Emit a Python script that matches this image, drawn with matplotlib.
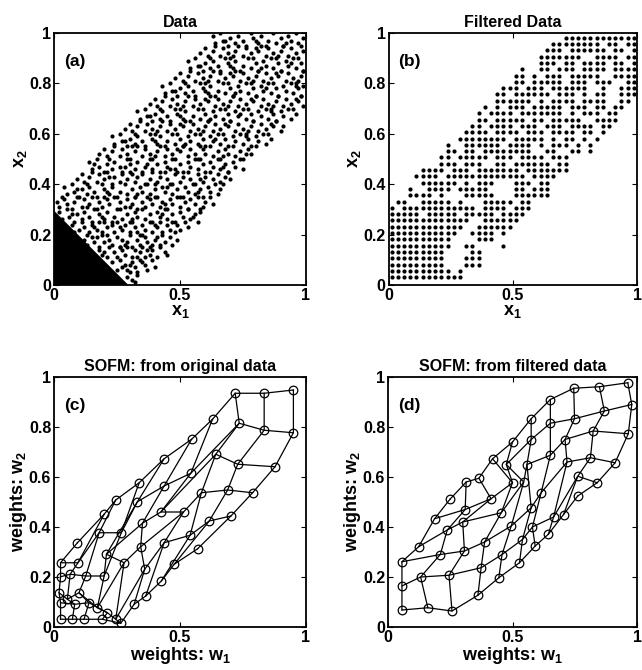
import matplotlib
matplotlib.use('Agg')
import matplotlib.pyplot as plt

plt.rcParams['font.family'] = ['Liberation Sans', 'DejaVu Sans']
plt.rcParams['font.weight'] = 'bold'
plt.rcParams['mathtext.fontset'] = 'custom'
plt.rcParams['mathtext.rm'] = 'Liberation Sans:bold'
plt.rcParams['mathtext.it'] = 'Liberation Sans:bold'
plt.rcParams['mathtext.bf'] = 'Liberation Sans:bold'
plt.rcParams['mathtext.default'] = 'rm'

# ---------------- data ----------------
titles = ['Data', 'Filtered Data', 'SOFM: from original data', 'SOFM: from filtered data']
tags = ['(a)', '(b)', '(c)', '(d)']
xlabels = ['x$_1$', 'x$_1$', 'weights: w$_1$', 'weights: w$_1$']
ylabels = ['x$_2$', 'x$_2$', 'weights: w$_2$', 'weights: w$_2$']
xticks = [0, 0.5, 1]
xticklabels = ['0', '0.5', '1']
yticks = [0, 0.2, 0.4, 0.6, 0.8, 1.0]
yticklabels = ['0', '0.2', '0.4', '0.6', '0.8', '1']

# (a) dense cluster in the lower-left corner (outline of the solid black region)
a_cluster_x = [0.0, 0.0, 0.295]
a_cluster_y = [0.0, 0.295, 0.0]

# (a) scattered points of the band (hundredths: x, y)
a_pts = [
 (29,3),(30,5),(32,1),(33,4),(31,2),
 (23,9),(25,6),(26,10),(28,8),(29,6),(31,9),(32,7),(33,5),(35,9),(36,8),(37,6),(39,10),(40,7),(27,7),(34,10),(30,8),
 (18,14),(19,12),(21,11),(22,15),(24,13),(25,11),(27,14),(28,12),(29,15),(31,11),(32,14),(34,13),(35,15),(36,11),(38,12),(39,14),(41,11),(42,15),(44,13),(45,12),(26,15),(33,11),(20,13),(37,14),
 (12,18),(13,16),(15,19),(16,17),(18,15),(19,20),(20,17),(22,18),(23,16),(25,19),(26,15),(27,18),(29,17),(30,20),(31,15),(33,18),(34,16),(36,19),(37,17),(38,15),(40,18),(42,16),(43,20),(44,17),(46,19),(47,16),(49,18),(21,20),(28,16),(35,20),(41,19),(17,19),(39,16),
 (7,24),(8,21),(10,22),(11,25),(12,23),(14,21),(15,24),(17,22),(18,25),(19,21),(21,23),(23,24),(24,21),(25,25),(27,22),(28,24),(30,21),(31,25),(32,23),(34,20),(35,24),(36,22),(38,25),(39,21),(41,23),(42,25),(43,21),(45,24),(46,22),(48,21),(49,24),(50,22),(52,25),(53,23),(13,20),(20,25),(26,23),(33,21),(40,24),(47,25),(16,23),
 (2,29),(3,26),(5,30),(6,27),(8,25),(9,28),(11,26),(12,29),(14,27),(15,25),(17,30),(18,28),(20,26),(21,29),(23,25),(24,27),(26,30),(27,26),(29,28),(30,25),(32,29),(33,27),(35,30),(36,26),(38,28),(39,25),(41,29),(42,27),(44,30),(45,26),(47,28),(48,25),(50,29),(51,27),(53,30),(54,26),(56,28),(57,25),(58,29),(7,28),(19,27),(31,26),(43,28),(55,27),
 (1,33),(2,31),(4,34),(5,32),(7,30),(8,33),(9,35),(11,31),(12,34),(14,32),(15,35),(16,30),(18,33),(19,31),(21,34),(22,32),(24,35),(25,30),(26,33),(28,31),(29,34),(31,32),(32,35),(33,30),(35,33),(36,31),(38,34),(39,32),(40,35),(42,31),(43,33),(45,30),(46,34),(47,32),(49,35),(50,31),(52,33),(53,30),(54,34),(56,32),(57,35),(59,31),(60,33),(62,35),(63,32),(3,35),(13,31),(20,35),(30,31),(37,35),(44,32),(51,35),(58,30),
 (4,39),(5,36),(7,40),(8,37),(10,35),(11,38),(13,36),(14,39),(16,37),(17,35),(19,40),(20,38),(22,36),(23,39),(25,35),(26,37),(28,40),(29,36),(31,38),(32,35),(34,39),(35,37),(37,40),(38,36),(40,38),(41,35),(43,39),(44,37),(46,40),(47,36),(49,38),(50,35),(52,39),(53,37),(55,40),(56,36),(58,38),(59,35),(61,39),(62,37),(64,40),(65,36),(66,38),(9,38),(21,37),(33,36),(45,39),(57,37),
 (9,42),(11,44),(12,41),(14,43),(15,45),(17,41),(18,44),(20,42),(21,45),(23,40),(24,43),(26,41),(27,44),(29,42),(30,45),(32,41),(33,43),(35,44),(36,40),(38,42),(39,45),(41,41),(42,43),(44,45),(45,42),(47,40),(48,44),(50,41),(51,43),(53,45),(54,42),(56,40),(57,44),(59,41),(60,43),(62,45),(63,42),(65,44),(66,41),(68,43),(69,45),(70,42),(13,40),(22,43),(31,44),(40,40),(49,45),(58,42),(67,40),
 (14,49),(15,46),(17,50),(18,47),(20,45),(21,48),(23,46),(24,49),(26,47),(27,45),(29,50),(30,48),(32,46),(33,49),(35,45),(36,47),(38,50),(39,46),(41,48),(42,45),(44,49),(45,47),(47,50),(48,46),(50,48),(51,45),(53,49),(54,47),(56,50),(57,46),(59,48),(60,45),(62,49),(63,47),(65,50),(66,46),(68,48),(69,45),(71,49),(72,47),(74,50),(75,46),(16,48),(28,47),(37,48),(46,46),(58,50),(67,47),
 (18,52),(20,54),(21,51),(23,53),(24,55),(26,51),(27,54),(29,52),(30,50),(32,53),(33,55),(35,51),(36,54),(38,52),(39,50),(41,53),(42,55),(44,51),(45,54),(47,52),(48,50),(50,53),(51,55),(53,51),(54,54),(56,52),(57,50),(59,54),(60,52),(62,55),(63,51),(65,53),(66,50),(68,54),(69,52),(71,55),(72,51),(74,53),(75,50),(77,54),(78,52),(80,55),(22,50),(31,55),(40,51),(49,54),(58,55),(67,51),(76,52),
 (23,59),(24,56),(26,60),(27,57),(29,55),(30,58),(32,56),(33,59),(35,57),(36,55),(38,60),(39,58),(41,56),(42,59),(44,55),(45,57),(47,60),(48,56),(50,58),(51,55),(53,59),(54,57),(56,60),(57,56),(59,58),(60,55),(62,59),(63,57),(65,60),(66,56),(68,58),(69,55),(71,59),(72,57),(74,60),(75,56),(77,58),(78,55),(80,59),(81,57),(83,60),(84,56),(86,58),(28,57),(40,57),(52,56),(64,58),(76,59),
 (28,62),(30,64),(31,61),(33,63),(34,65),(36,61),(37,64),(39,62),(40,60),(42,63),(43,65),(45,61),(46,64),(48,62),(49,60),(51,63),(52,65),(54,61),(55,64),(57,62),(58,60),(60,63),(61,65),(63,61),(64,64),(66,62),(67,60),(69,63),(70,65),(72,61),(73,64),(75,62),(76,60),(78,63),(79,65),(81,61),(82,64),(84,62),(85,60),(87,63),(88,65),(90,61),(91,63),(32,60),(41,61),(50,64),(59,61),(68,64),(77,61),(86,64),
 (33,69),(34,66),(36,70),(37,67),(39,65),(40,68),(42,66),(43,69),(45,67),(46,65),(48,70),(49,68),(51,66),(52,69),(54,65),(55,67),(57,70),(58,66),(60,68),(61,65),(63,69),(64,67),(66,70),(67,66),(69,68),(70,65),(72,69),(73,67),(75,70),(76,66),(78,68),(79,65),(81,69),(82,67),(84,70),(85,66),(87,68),(88,65),(90,69),(91,67),(93,70),(94,66),(96,68),(38,67),(50,67),(62,66),(74,68),(86,69),
 (38,72),(40,74),(41,71),(43,73),(44,75),(46,71),(47,74),(49,72),(50,70),(52,73),(53,75),(55,71),(56,74),(58,72),(59,70),(61,73),(62,75),(64,71),(65,74),(67,72),(68,70),(70,73),(71,75),(73,71),(74,74),(76,72),(77,70),(79,73),(80,75),(82,71),(83,74),(85,72),(86,70),(88,73),(89,75),(91,71),(92,74),(94,72),(95,70),(97,73),(98,75),(99,71),(42,70),(51,71),(60,74),(69,71),(78,74),(87,71),(96,74),
 (43,79),(44,76),(46,80),(47,77),(49,75),(50,78),(52,76),(53,79),(55,77),(56,75),(58,80),(59,78),(61,76),(62,79),(64,75),(65,77),(67,80),(68,76),(70,78),(71,75),(73,79),(74,77),(76,80),(77,76),(79,78),(80,75),(82,79),(83,77),(85,80),(86,76),(88,78),(89,75),(91,79),(92,77),(94,80),(95,76),(97,78),(98,75),(99,79),(48,77),(60,77),(72,76),(84,78),(96,79),
 (48,82),(50,84),(51,81),(53,83),(54,85),(56,81),(57,84),(59,82),(60,80),(62,83),(63,85),(65,81),(66,84),(68,82),(69,80),(71,83),(72,85),(74,81),(75,84),(77,82),(78,80),(80,83),(81,85),(83,81),(84,84),(86,82),(87,80),(89,83),(90,85),(92,81),(93,84),(95,82),(96,80),(98,83),(99,85),(52,80),(61,81),(70,84),(79,81),(88,84),(97,81),
 (53,89),(54,86),(56,90),(57,87),(59,85),(60,88),(62,86),(63,89),(65,87),(66,85),(68,90),(69,88),(71,86),(72,89),(74,85),(75,87),(77,90),(78,86),(80,88),(81,85),(83,89),(84,87),(86,90),(87,86),(89,88),(90,85),(92,89),(93,87),(95,90),(96,86),(98,88),(99,85),(58,87),(70,87),(82,86),(94,88),
 (58,92),(60,94),(61,91),(63,93),(64,95),(66,91),(67,94),(69,92),(70,90),(72,93),(73,95),(75,91),(76,94),(78,92),(79,90),(81,93),(82,95),(84,91),(85,94),(87,92),(88,90),(90,93),(91,95),(93,91),(94,94),(96,92),(97,90),(99,93),(62,90),(71,91),(80,94),(89,91),(98,95),
 (63,99),(64,96),(66,100),(67,97),(69,95),(70,98),(72,96),(73,99),(75,97),(76,95),(78,100),(79,98),(81,96),(82,99),(84,95),(85,97),(87,100),(88,96),(90,98),(91,95),(93,99),(94,97),(96,100),(97,96),(99,98),(68,97),(80,97),(92,96),
]
a_x1 = [p[0] / 100 for p in a_pts]
a_x2 = [p[1] / 100 for p in a_pts]

# (b) filtered data: occupied cells of a 0.025 grid, listed as runs of column indices per row (row 1 = bottom)
b_step = 0.025
b_x0 = 0.0125
b_y0 = 0.006
b_runs = [
 [(0,11)],
 [(0,9),(11,11)],
 [(0,8),(12,14)],
 [(0,8),(12,14)],
 [(0,8),(13,14)],
 [(0,9),(12,13),(18,18)],
 [(0,9),(14,16)],
 [(0,10),(13,16),(18,18)],
 [(0,11),(14,19)],
 [(0,12),(15,20)],
 [(0,4),(6,10),(12,16),(18,21)],
 [(0,0),(2,13),(15,18),(20,22)],
 [(1,2),(5,9),(11,11),(15,19),(21,22)],
 [(3,6),(8,8),(12,16),(20,25)],
 [(3,3),(6,9),(11,15),(20,21),(23,25)],
 [(5,10),(12,12),(14,16),(20,22),(24,25)],
 [(4,7),(9,21),(23,26)],
 [(5,8),(10,12),(14,20),(22,28)],
 [(8,10),(12,14),(17,18),(20,25),(27,28)],
 [(8,9),(11,15),(17,19),(21,24),(26,28)],
 [(9,10),(12,13),(15,22),(25,26),(29,30),(32,32)],
 [(9,9),(12,17),(19,22),(24,24),(26,28),(30,30),(32,32)],
 [(11,18),(20,24),(26,26),(28,29),(31,31),(33,33)],
 [(12,15),(17,20),(22,24),(26,29),(31,32),(34,34)],
 [(13,14),(16,19),(21,23),(25,27),(29,32),(34,35)],
 [(14,15),(17,21),(23,24),(26,30),(33,36)],
 [(14,14),(16,19),(21,27),(29,29),(31,33),(35,36)],
 [(15,15),(17,17),(19,21),(23,27),(29,31),(33,34),(36,37)],
 [(17,22),(24,24),(26,29),(31,34),(37,38)],
 [(17,18),(20,25),(27,29),(31,31),(33,34),(37,39)],
 [(18,20),(22,24),(26,31),(34,34),(37,39)],
 [(20,21),(23,27),(29,31),(33,35),(38,39)],
 [(20,21),(23,23),(25,27),(29,33),(36,39)],
 [(21,21),(24,25),(27,29),(31,34),(36,39)],
 [(24,26),(28,29),(31,34),(36,37),(39,39)],
 [(24,30),(33,36),(38,39)],
 [(25,27),(29,34),(36,37),(39,39)],
 [(26,33),(35,36),(38,39)],
 [(28,39)],
]
b_x1, b_x2 = [], []
for r, runs in enumerate(b_runs, start=1):
    for c0, c1 in runs:
        for c in range(c0, c1 + 1):
            b_x1.append(b_x0 + c * b_step)
            b_x2.append(b_y0 + r * b_step)

# (c) SOFM weights trained on original data: 6 x 10 map, (w1, w2) per node
c_nodes = [
 [(.026,.031),(.073,.031),(.119,.031),(.192,.031),(.265,.015),(.318,.091),(.364,.124),(.426,.184),(.477,.251),(.570,.313)],
 [(.026,.097),(.082,.091),(.139,.097),(.212,.057),(.245,.031),(.360,.231),(.437,.337),(.540,.367),(.616,.424),(.702,.444)],
 [(.020,.137),(.053,.111),(.099,.137),(.172,.077),(.278,.257),(.344,.321),(.514,.460),(.585,.537),(.689,.548),(.788,.537)],
 [(.026,.201),(.064,.211),(.126,.204),(.199,.204),(.208,.291),(.351,.415),(.424,.460),(.642,.691),(.729,.651),(.877,.641)],
 [(.026,.257),(.095,.257),(.179,.377),(.267,.377),(.331,.501),(.437,.564),(.543,.615),(.735,.815),(.834,.787),(.950,.777)],
 [(.093,.337),(.199,.451),(.245,.508),(.338,.577),(.437,.673),(.546,.751),(.629,.831),(.719,.935),(.834,.935),(.950,.948)],
]

# (d) SOFM weights trained on filtered data: 6 x 10 map
d_nodes = [
 [(.056,.068),(.160,.077),(.257,.064),(.361,.127),(.445,.197),(.528,.257),(.591,.324),(.644,.371),(.705,.450),(.762,.524)],
 [(.056,.164),(.131,.200),(.245,.207),(.374,.237),(.458,.290),(.540,.350),(.580,.400),(.665,.440),(.762,.603),(.840,.577)],
 [(.056,.261),(.210,.290),(.307,.304),(.388,.340),(.495,.404),(.575,.477),(.615,.537),(.719,.660),(.813,.677),(.912,.657)],
 [(.123,.321),(.238,.388),(.300,.420),(.455,.457),(.545,.580),(.558,.650),(.652,.687),(.711,.750),(.824,.784),(.965,.773)],
 [(.187,.433),(.310,.470),(.414,.513),(.500,.577),(.475,.650),(.575,.750),(.652,.815),(.749,.833),(.869,.864),(.979,.890)],
 [(.249,.511),(.314,.580),(.365,.595),(.420,.673),(.500,.740),(.575,.833),(.652,.910),(.746,.955),(.849,.961),(.963,.977)],
]

# ---------------- drawing ----------------
fig = plt.figure(figsize=(6.42, 6.70), dpi=100)
W, H = 642.0, 670.0
rects = [
    [54 / W, (H - 285) / H, 252 / W, 252 / H],
    [388.5 / W, (H - 285) / H, 248.5 / W, 252 / H],
    [54 / W, (H - 627) / H, 252 / W, 250 / H],
    [388 / W, (H - 627) / H, 249 / W, 250 / H],
]
axes = [fig.add_axes(r) for r in rects]


def style(ax, k):
    ax.set_xlim(0, 1)
    ax.set_ylim(0, 1)
    ax.set_xticks(xticks)
    ax.set_xticklabels(xticklabels)
    ax.set_yticks(yticks)
    ax.set_yticklabels(yticklabels)
    ax.tick_params(direction='in', top=True, right=True, length=3.5, width=0.8,
                   labelsize=11.5, pad=2)
    for s in ax.spines.values():
        s.set_linewidth(1.3)
    ax.set_title(titles[k], fontsize=11.5, fontweight='bold', pad=4)
    ax.set_xlabel(xlabels[k], fontsize=13, fontweight='bold', labelpad=0)
    ax.set_ylabel(ylabels[k], fontsize=13, fontweight='bold', labelpad=0)
    ax.text(0.04, 0.885, tags[k], fontsize=12.5, fontweight='bold', va='center', ha='left')


# (a)
ax = axes[0]
ax.fill(a_cluster_x, a_cluster_y, color='k', lw=0)
ax.plot(a_x1, a_x2, 'o', color='k', ms=3.0, mew=0)
style(ax, 0)

# (b)
ax = axes[1]
ax.plot(b_x1, b_x2, 'o', color='k', ms=3.0, mew=0)
style(ax, 1)


def draw_sofm(ax, nodes):
    nr = len(nodes)
    nc = len(nodes[0])
    for i in range(nr):
        ax.plot([p[0] for p in nodes[i]], [p[1] for p in nodes[i]], '-', color='k', lw=0.9)
    for j in range(nc):
        ax.plot([nodes[i][j][0] for i in range(nr)], [nodes[i][j][1] for i in range(nr)],
                '-', color='k', lw=0.9)
    xs = [p[0] for row in nodes for p in row]
    ys = [p[1] for row in nodes for p in row]
    ax.plot(xs, ys, 'o', mfc='none', mec='k', ms=6.2, mew=0.9)


draw_sofm(axes[2], c_nodes)
style(axes[2], 2)
draw_sofm(axes[3], d_nodes)
style(axes[3], 3)

fig.savefig('out.png', dpi=100)
